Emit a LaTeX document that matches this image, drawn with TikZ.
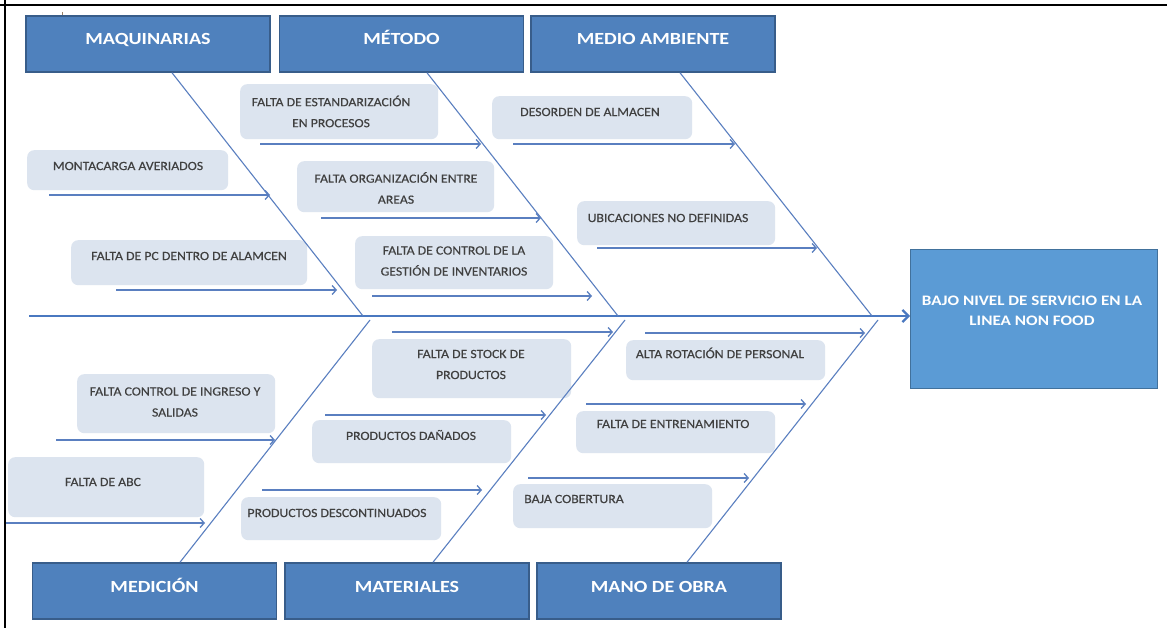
\documentclass[tikz,border=0pt]{standalone}
\usepackage{fontspec}
\setmainfont{Carlito}
\newfontfamily\labfont[FakeStretch=1.1,FakeBold=0.4]{Carlito}
\newfontfamily\headfont[FakeStretch=1.18]{Carlito}
\usetikzlibrary{arrows.meta}
\definecolor{headfill}{HTML}{4F81BD}
\definecolor{headdraw}{HTML}{385D8A}
\definecolor{efffill}{HTML}{5B9BD5}
\definecolor{effdraw}{HTML}{41719C}
\definecolor{labfill}{HTML}{DCE4EF}
\definecolor{labtext}{HTML}{404040}
\definecolor{bonecol}{HTML}{5A7FC0}
\definecolor{spinecol}{HTML}{4A78C0}
\tikzset{
  head/.style={draw=headdraw, line width=1.5pt, fill=headfill, minimum width=244pt, minimum height=56pt,
    inner sep=0pt, text=white, font=\headfont\bfseries\fontsize{17}{20}\selectfont, text height=12pt, text depth=10pt},
  cbox/.style={fill=labfill, rounded corners=7pt, inner sep=0pt, anchor=north west},
  ctext/.style={text=labtext, font=\labfont\fontsize{12.5}{21}\selectfont, align=center, inner sep=0pt},
  bone/.style={draw=bonecol, line width=1.1pt},
  carrow/.style={draw=bonecol, line width=1.3pt, -{Straight Barb[length=4pt,width=9pt]}},
  spine/.style={draw=spinecol, line width=2.2pt, -{Straight Barb[length=6pt,width=12pt]}},
}
\begin{document}
\begin{tikzpicture}[x=1pt,y=-1pt]
\fill[white] (0,0) rectangle (1167,628);
\useasboundingbox (0,0) rectangle (1167,628);
% frame
\draw[black, line width=2pt] (0,5) -- (1167,5);
\draw[black, line width=2pt] (5,0) -- (5,628);
\draw[gray!60!brown, line width=0.8pt] (62.5,12) -- (62.5,25);

% heading boxes
\node[head] (h1) at (148,44) {MAQUINARIAS};
\node[head] (h2) at (401.5,44) {MÉTODO};
\node[head] (h3) at (653,44) {MEDIO AMBIENTE};
\node[head] (h4) at (154.5,591) {MEDICIÓN};
\node[head] (h5) at (407,591) {MATERIALES};
\node[head] (h6) at (659,591) {MANO DE OBRA};

% effect
\node[draw=effdraw, fill=efffill, line width=1pt, minimum width=247pt, minimum height=139pt, inner sep=0pt, anchor=north west] (eff) at (910,249) {};
\node[text=white, font=\headfont\bfseries\fontsize{14.5}{20}\selectfont, align=center, inner sep=0pt] (efftext) at (1032,311) {BAJO NIVEL DE SERVICIO EN LA\\LINEA NON FOOD};

% cause boxes
\node[cbox, minimum width=201pt, minimum height=40pt] (b1) at (27,150) {};
\node[cbox, minimum width=236pt, minimum height=45pt] (b2) at (71,240) {};
\node[cbox, minimum width=198pt, minimum height=55pt] (b3) at (240,84) {};
\node[cbox, minimum width=197pt, minimum height=51pt] (b4) at (297,161) {};
\node[cbox, minimum width=198pt, minimum height=53pt] (b5) at (355,236) {};
\node[cbox, minimum width=200pt, minimum height=43pt] (b6) at (492,96) {};
\node[cbox, minimum width=198pt, minimum height=44pt] (b7) at (577,201) {};
\node[cbox, minimum width=198pt, minimum height=59pt] (b8) at (77,374) {};
\node[cbox, minimum width=196pt, minimum height=60pt] (b9) at (8,457) {};
\node[cbox, minimum width=199pt, minimum height=59pt] (b10) at (372,339) {};
\node[cbox, minimum width=199pt, minimum height=43pt] (b11) at (312,420) {};
\node[cbox, minimum width=200pt, minimum height=43pt] (b12) at (241,497) {};
\node[cbox, minimum width=199pt, minimum height=40pt] (b13) at (626,340) {};
\node[cbox, minimum width=199pt, minimum height=42pt] (b14) at (576,411) {};
\node[cbox, minimum width=199pt, minimum height=44pt] (b15) at (513,484) {};

% cause texts
\node[ctext] (t1) at (128,166) {MONTACARGA AVERIADOS};
\node[ctext] (t2) at (189,256) {FALTA DE PC DENTRO DE ALAMCEN};
\node[ctext] (t3) at (331,111.5) {FALTA DE ESTANDARIZACIÓN\\EN PROCESOS};
\node[ctext] (t4) at (396,188) {FALTA ORGANIZACIÓN ENTRE\\AREAS};
\node[ctext] (t5) at (454,261) {FALTA DE CONTROL DE LA\\GESTIÓN DE INVENTARIOS};
\node[ctext] (t6) at (590,112) {DESORDEN DE ALMACEN};
\node[ctext] (t7) at (668,218) {UBICACIONES NO DEFINIDAS};
\node[ctext] (t8) at (175,402) {FALTA CONTROL DE INGRESO Y\\SALIDAS};
\node[ctext] (t9) at (103,482) {FALTA DE ABC};
\node[ctext] (t10) at (471,364.5) {FALTA DE STOCK DE\\PRODUCTOS};
\node[ctext] (t11) at (411,435) {PRODUCTOS DAÑADOS};
\node[ctext] (t12) at (337,513) {PRODUCTOS DESCONTINUADOS};
\node[ctext] (t13) at (720,353) {ALTA ROTACIÓN DE PERSONAL};
\node[ctext] (t14) at (673,424) {FALTA DE ENTRENAMIENTO};
\node[ctext] (t15) at (574,499) {BAJA COBERTURA};

% spine
\coordinate (sp) at (29,316);
\draw[spine] (sp) -- (sp -| eff.west);

% bones
\coordinate (j1) at (363,316);
\coordinate (j2) at (618,316);
\coordinate (j3) at (872,316);
\coordinate (j4) at (370,320);
\coordinate (j5) at (625,320);
\coordinate (j6) at (878,320);
\draw[bone] ([xshift=24pt]h1.south) -- (j1);
\draw[bone] ([xshift=25.5pt]h2.south) -- (j2);
\draw[bone] ([xshift=27pt]h3.south) -- (j3);
\draw[bone] ([xshift=25.5pt]h4.north) -- (j4);
\draw[bone] ([xshift=26pt]h5.north) -- (j5);
\draw[bone] ([xshift=28pt]h6.north) -- (j6);

% cause arrows
\foreach \n/\xa/\xb/\yy in {1/49/270/195, 2/116/337/290, 3/260/481/144, 4/321/541/218, 5/372/592/296,
  6/513/735/144, 7/597/817/248, 8/56/275/440, 9/6/205/523, 10/392/613/332, 11/325/546/415,
  12/262/482/490, 13/645/865/333, 14/586/806/404, 15/528/749/478}{
  \coordinate (s\n) at (\xa,\yy);
  \coordinate (e\n) at (\xb,\yy);
  \draw[carrow] (s\n) -- (e\n);
}
\end{tikzpicture}
\end{document}
